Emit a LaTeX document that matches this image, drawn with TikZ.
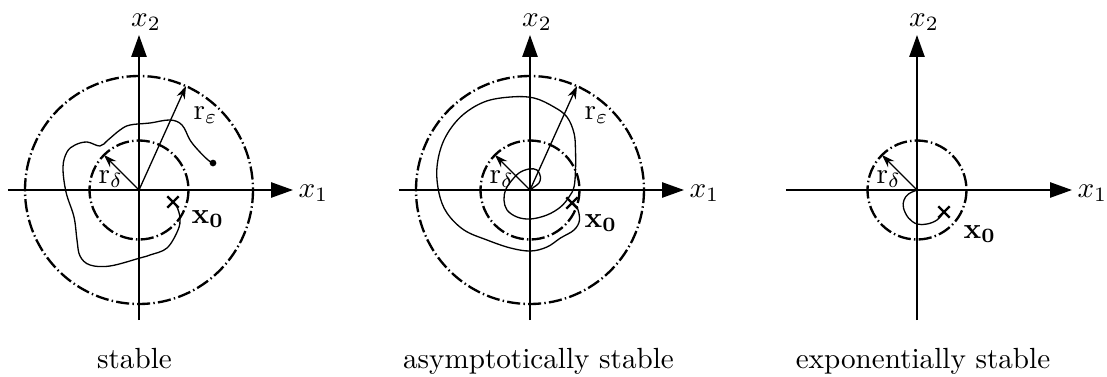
\documentclass[tikz,border=0pt]{standalone}
\usetikzlibrary{arrows.meta,shapes.misc}
\begin{document}
\begin{tikzpicture}[x=0.343pt,y=-0.343pt,
 axis/.style={line width=0.65pt,-{Triangle[length=7.5pt,width=5.2pt]}},
 ring/.style={line width=0.8pt,dash pattern=on 4.5pt off 1.1pt on 0.5pt off 1.1pt},
 traj/.style={line width=0.45pt},
 radarrow/.style={line width=0.45pt,-{Stealth[length=4.4pt,width=3pt]}},
 lab/.style={inner sep=0pt},
 xmark/.style={cross out,draw,line width=0.8pt,inner sep=0pt,minimum size=3.1pt},
 endpt/.style={circle,fill,inner sep=0pt,minimum size=2.3pt},
]
\useasboundingbox (0,0) rectangle (1107,377);

% ---------- panel 1: stable ----------
\begin{scope}[shift={(139,190)}]
 \coordinate (o1) at (0,0);
 \coordinate (l1) at (-131,0); \coordinate (r1) at (154,0);
 \coordinate (b1) at (0,130);  \coordinate (t1) at (0,-155);
 \draw[ring] (o1) circle[radius=114];
 \draw[ring] (o1) circle[radius=49.5];
 \draw[axis] (l1) -- (r1);
 \draw[axis] (b1) -- (t1);
 \node[lab,anchor=south] (x2a) at (7,-159) {$x_2$};
 \node[lab,anchor=base west] (x1a) at (159,7) {$x_1$};
 \coordinate (d1) at (-35,-35); \coordinate (e1) at (47,-104);
 \draw[radarrow] (o1) -- (d1);
 \draw[radarrow] (o1) -- (e1);
 \node[lab,anchor=base west] (rd1) at (-41,-7) {$\mathrm{r}_\delta$};
 \node[lab,anchor=base west] (re1) at (54,-71) {$\mathrm{r}_\varepsilon$};
 \node[xmark] (c1) at (34,12) {};
 \node[endpt] (p1) at (74,-27) {};
 \draw[traj] plot[smooth,tension=0.6] coordinates {(34,12) (38,17) (41,28) (39,40) (28,58) (11,65) (1,68) (-29,76) (-49,75) (-59,66) (-62,50) (-65,27) (-73,2) (-76,-23) (-72,-38) (-64,-45) (-52,-48) (-39,-44) (-31,-50) (-19,-60) (-9,-65) (11,-67) (31,-70) (43,-65) (51,-50) (59,-40) (69,-30) (74,-27)};
 \node[lab,anchor=base west] (x0a) at (52,33) {$\mathbf{x_0}$};
 \node[lab,anchor=base] (cap1) at (-4.5,178) {stable};
\end{scope}

% ---------- panel 2: asymptotically stable ----------
\begin{scope}[shift={(530,190)}]
 \coordinate (o2) at (0,0);
 \coordinate (l2) at (-131,0); \coordinate (r2) at (154,0);
 \coordinate (b2) at (0,130);  \coordinate (t2) at (0,-155);
 \draw[ring] (o2) circle[radius=114];
 \draw[ring] (o2) circle[radius=49.5];
 \draw[axis] (l2) -- (r2);
 \draw[axis] (b2) -- (t2);
 \node[lab,anchor=south] (x2b) at (7,-159) {$x_2$};
 \node[lab,anchor=base west] (x1b) at (159,7) {$x_1$};
 \coordinate (d2) at (-35,-35); \coordinate (e2) at (47,-104);
 \draw[radarrow] (o2) -- (d2);
 \draw[radarrow] (o2) -- (e2);
 \node[lab,anchor=base west] (rd2) at (-41,-7) {$\mathrm{r}_\delta$};
 \node[lab,anchor=base west] (re2) at (54,-71) {$\mathrm{r}_\varepsilon$};
 \node[xmark] (c2) at (42,13) {};
 \draw[traj] plot[smooth,tension=0.6] coordinates {(42,13) (47,17) (49.5,30) (44,40) (30.5,48) (17,57) (0.5,61) (-19.5,58) (-43,50) (-66,40) (-83,23) (-91,3) (-93,-23) (-86,-50) (-69.5,-73) (-46,-88) (-19.5,-93) (4,-92) (24,-83) (37,-73) (44,-57) (45.5,-40) (45.5,-20) (44,-3) (39,7) (30.5,17) (17,25) (0.5,29) (-13,27) (-23,20) (-26,10) (-24.5,0) (-19.5,-8) (-11,-17) (-1,-21) (7,-20) (10.5,-13) (9,-7) (4,-3) (0,0)};
 \node[lab,anchor=base west] (x0b) at (54,37) {$\mathbf{x_0}$};
 \node[lab,anchor=base] (cap2) at (8.5,178) {asymptotically stable};
\end{scope}

% ---------- panel 3: exponentially stable ----------
\begin{scope}[shift={(917,190)}]
 \coordinate (o3) at (0,0);
 \coordinate (l3) at (-131,0); \coordinate (r3) at (155,0);
 \coordinate (b3) at (0,130);  \coordinate (t3) at (0,-155);
 \draw[ring] (o3) circle[radius=49.5];
 \draw[axis] (l3) -- (r3);
 \draw[axis] (b3) -- (t3);
 \node[lab,anchor=south] (x2c) at (7,-159) {$x_2$};
 \node[lab,anchor=base west] (x1c) at (160,7) {$x_1$};
 \coordinate (d3) at (-35,-35);
 \draw[radarrow] (o3) -- (d3);
 \node[lab,anchor=base west] (rd3) at (-41,-7) {$\mathrm{r}_\delta$};
 \node[xmark] (c3) at (27,22) {};
 \draw[traj] plot[smooth,tension=0.6] coordinates {(27,22) (20,30) (10,34) (0,34) (-8.5,28) (-13.5,18) (-13,10) (-8.5,4) (0,0)};
 \node[lab,anchor=base west] (x0c) at (46,48) {$\mathbf{x_0}$};
 \node[lab,anchor=base] (cap3) at (6,178) {exponentially stable};
\end{scope}
\end{tikzpicture}
\end{document}
